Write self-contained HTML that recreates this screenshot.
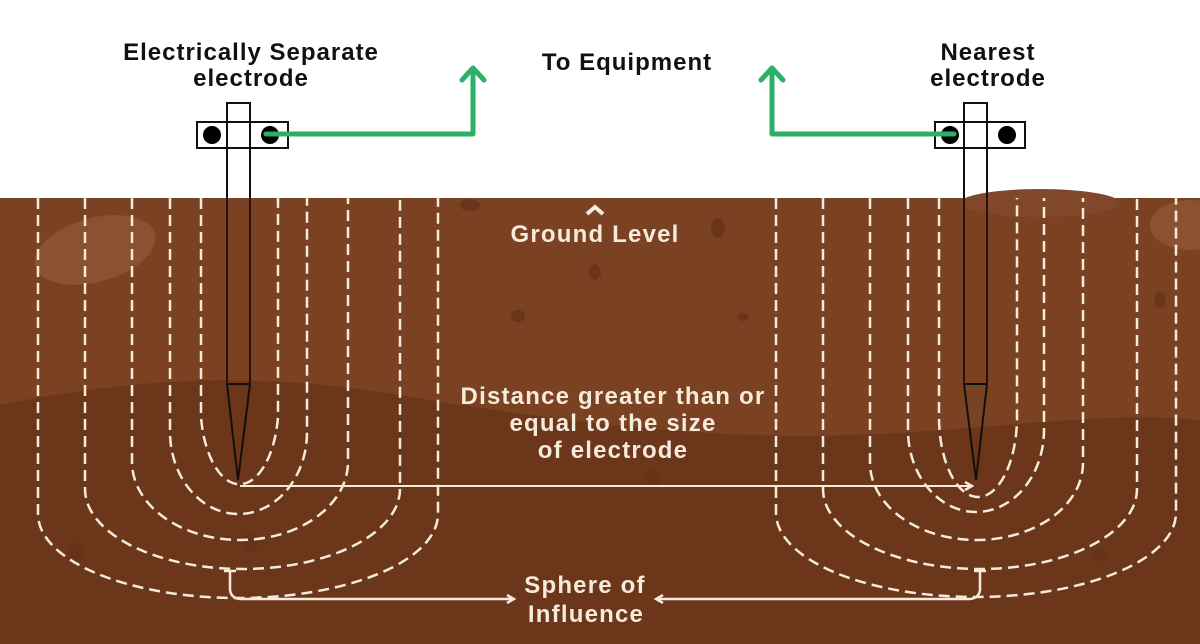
<!DOCTYPE html>
<html><head><meta charset="utf-8"><style>
html,body{margin:0;padding:0;background:#fff;}
svg{display:block;}
text{font-family:"Liberation Sans",sans-serif;font-weight:bold;}
</style></head><body>
<svg width="1200" height="644" viewBox="0 0 1200 644" xmlns="http://www.w3.org/2000/svg">
<defs>
<marker id="ah" markerWidth="10" markerHeight="10" refX="8" refY="5" orient="auto" markerUnits="userSpaceOnUse">
<path d="M1,1 L8,5 L1,9" fill="none" stroke="#f6eadc" stroke-width="2.5"/>
</marker>
</defs>
<rect x="0" y="0" width="1200" height="198" fill="#fff"/>
<rect x="0" y="198" width="1200" height="446" fill="#7a4222"/>
<path d="M0,405 C120,380 250,370 400,395 C550,420 700,440 850,435 C1000,430 1100,410 1200,420 L1200,644 L0,644 Z" fill="#6b361a"/>
<ellipse cx="95" cy="250" rx="62" ry="32" fill="#8a5231" transform="rotate(-15 95 250)"/>
<ellipse cx="1190" cy="225" rx="40" ry="25" fill="#8a5231"/>
<ellipse cx="1040" cy="203" rx="80" ry="14" fill="#80472a"/>
<g fill="#65321a" opacity="0.8">
<ellipse cx="470" cy="205" rx="10" ry="6"/><ellipse cx="718" cy="228" rx="7" ry="10"/>
<ellipse cx="595" cy="272" rx="6" ry="8"/><ellipse cx="518" cy="316" rx="7" ry="6"/>
<ellipse cx="743" cy="317" rx="6" ry="4"/><ellipse cx="75" cy="553" rx="8" ry="10"/>
<ellipse cx="1100" cy="555" rx="7" ry="6"/><ellipse cx="653" cy="478" rx="7" ry="9"/>
<ellipse cx="1160" cy="300" rx="6" ry="8"/><ellipse cx="250" cy="542" rx="8" ry="10"/>
</g>
<g fill="none" stroke="#f6eadc" stroke-width="2.5" stroke-dasharray="11,6">
<path d="M201,198 V417 A39,80 0 0 0 278,417 V198"/>
<path d="M170,198 V432 A68.5,82 0 0 0 307,432 V198"/>
<path d="M132,198 V462 A108,78 0 0 0 348,462 V198"/>
<path d="M85,198 V489 A157.5,80 0 0 0 400,489 V198"/>
<path d="M38,198 V514 A200,84 0 0 0 438,514 V198"/>
<path d="M939,198 V417 A39,80 0 0 0 1017,417 V198"/>
<path d="M908,198 V430 A68,82 0 0 0 1044,430 V198"/>
<path d="M870,198 V463 A106.5,77 0 0 0 1083,463 V198"/>
<path d="M823,198 V489 A157,80 0 0 0 1137,489 V198"/>
<path d="M776,198 V513 A200,84 0 0 0 1176,513 V198"/>
</g>
<circle cx="212" cy="135" r="9" fill="#000"/><circle cx="270" cy="135" r="9" fill="#000"/>
<circle cx="950" cy="135" r="9" fill="#000"/><circle cx="1007" cy="135" r="9" fill="#000"/>
<g fill="none" stroke="#111" stroke-width="2">
<rect x="197" y="122" width="91" height="26"/>
<path d="M227,198 V103 H250 V198"/>
<path d="M227,384 H250 M227,384 L238,480 L250,384"/>
<rect x="935" y="122" width="90" height="26"/>
<path d="M964,198 V103 H987 V198"/>
<path d="M964,384 H987 M964,384 L976,480 L987,384"/>
</g>
<g stroke="#2a140a" stroke-width="2" fill="none">
<path d="M227,198 V384 M250,198 V384 M964,198 V384 M987,198 V384"/>
</g>
<g fill="none" stroke="#2bb06a" stroke-width="5" stroke-linecap="round" stroke-linejoin="round">
<path d="M266,134 H473 V70"/><path d="M462,80 L473,68 L484,80"/>
<path d="M954,134 H772 V70"/><path d="M761,80 L772,68 L783,80"/>
</g>
<line x1="240" y1="486" x2="972" y2="486" stroke="#f6eadc" stroke-width="2" marker-end="url(#ah)"/>
<g fill="none" stroke="#f6eadc" stroke-width="2.5">
<path d="M224,571 H236 M230,571 V590 Q231,598 240,599"/>
<path d="M974,571 H986 M980,571 V590 Q979,598 970,599"/>
<line x1="240" y1="599" x2="514" y2="599" marker-end="url(#ah)"/>
<line x1="970" y1="599" x2="656" y2="599" marker-end="url(#ah)"/>
</g>
<path d="M587,214 L595,207 L603,214" fill="none" stroke="#f6eadc" stroke-width="4"/>
<g fill="#111" font-size="24" letter-spacing="1" text-anchor="middle">
<text x="251" y="60">Electrically Separate</text>
<text x="251" y="86">electrode</text>
<text x="627" y="70">To Equipment</text>
<text x="988" y="60">Nearest</text>
<text x="988" y="86">electrode</text>
</g>
<g fill="#f6eadc" text-anchor="middle" font-size="24" letter-spacing="1.2">
<text x="595" y="242">Ground Level</text>
<text x="613" y="404">Distance greater than or</text>
<text x="613" y="431">equal to the size</text>
<text x="613" y="458">of electrode</text>
<text x="585" y="593">Sphere of</text>
<text x="586" y="622">Influence</text>
</g>
</svg>
</body></html>
